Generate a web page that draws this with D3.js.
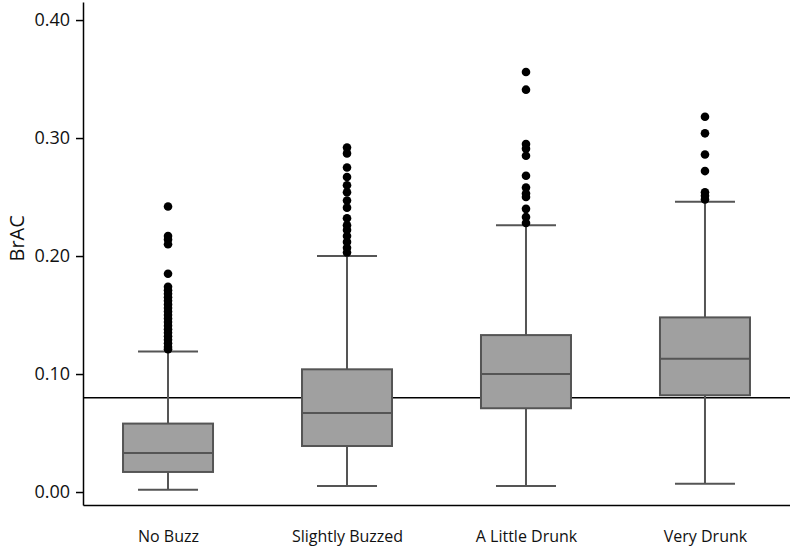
<!DOCTYPE html>
<html>
<head>
<meta charset="utf-8">
<script src="https://cdn.jsdelivr.net/npm/d3@7"></script>
<style>
  body { margin: 0; background: #fff; }
  svg { display: block; font-family: "Open Sans", sans-serif; }
</style>
</head>
<body>
<svg width="790" height="550"></svg>
<script>
// values
const categories = ['No Buzz', 'Slightly Buzzed', 'A Little Drunk', 'Very Drunk'];
const whiskerLow  = [0.002, 0.005, 0.005, 0.007];
const q1          = [0.017, 0.039, 0.071, 0.082];
const median      = [0.033, 0.067, 0.100, 0.113];
const q3          = [0.058, 0.104, 0.133, 0.148];
const whiskerHigh = [0.119, 0.200, 0.226, 0.246];
const outliers = [
    [0.242, 0.217, 0.214, 0.210, 0.185, 0.174, 0.171, 0.168, 0.165, 0.162, 0.159, 0.156,
     0.153, 0.150, 0.147, 0.144, 0.141, 0.138, 0.135, 0.132, 0.129, 0.126, 0.123, 0.121],
    [0.292, 0.287, 0.275, 0.267, 0.260, 0.254, 0.247, 0.241, 0.232, 0.226, 0.222, 0.217,
     0.212, 0.207, 0.203],
    [0.356, 0.341, 0.295, 0.291, 0.285, 0.268, 0.258, 0.253, 0.250, 0.240, 0.233, 0.228],
    [0.318, 0.304, 0.286, 0.272, 0.254, 0.251, 0.248]
];
const yTicks = [0, 0.1, 0.2, 0.3, 0.4];
const limit = 0.08;

const svg = d3.select('svg');

const x = d3.scalePoint().domain(categories).range([83, 790]).padding(0.475);
const y = d3.scaleLinear().domain([-0.011, 0.4153]).range([505, 2]);
const boxW = 90, capW = 60;

// y axis
const yAxis = svg.append('g').attr('transform', 'translate(83,0)')
    .call(d3.axisLeft(y).tickValues(yTicks).tickFormat(d3.format('.2f')).tickSize(7).tickSizeOuter(0).tickPadding(6));
yAxis.select('.domain').attr('stroke', '#000').attr('stroke-width', 1.5);
yAxis.selectAll('.tick line').attr('stroke', '#000').attr('stroke-width', 1.5);
yAxis.selectAll('.tick text').attr('font-size', 18).attr('fill', '#111').style('font-family', '"Open Sans", sans-serif');

// x axis
const xAxis = svg.append('g').attr('transform', 'translate(0,505)')
    .call(d3.axisBottom(x).tickSize(0).tickSizeOuter(0).tickPadding(26));
xAxis.select('.domain').attr('stroke', '#000').attr('stroke-width', 1.5);
xAxis.selectAll('.tick text').attr('font-size', 16).attr('fill', '#111').style('font-family', '"Open Sans", sans-serif');

// y label
svg.append('text')
    .attr('transform', 'translate(24,' + y(0.215) + ') rotate(-90)')
    .attr('text-anchor', 'middle')
    .attr('font-size', 20)
    .attr('fill', '#111')
    .text('BrAC');

// legal limit line
svg.append('line')
    .attr('x1', 83).attr('x2', 790)
    .attr('y1', y(limit)).attr('y2', y(limit))
    .attr('stroke', '#000').attr('stroke-width', 1.5);

const data = categories.map((c, i) => ({
    cat: c, lo: whiskerLow[i], q1: q1[i], med: median[i], q3: q3[i], hi: whiskerHigh[i], out: outliers[i]
}));

const g = svg.selectAll('.box').data(data).enter().append('g').attr('class', 'box');
const grey = '#555';

// whiskers
g.append('line')
    .attr('x1', d => x(d.cat)).attr('x2', d => x(d.cat))
    .attr('y1', d => y(d.lo)).attr('y2', d => y(d.hi))
    .attr('stroke', grey).attr('stroke-width', 2);
g.append('line')
    .attr('x1', d => x(d.cat) - capW / 2).attr('x2', d => x(d.cat) + capW / 2)
    .attr('y1', d => y(d.lo)).attr('y2', d => y(d.lo))
    .attr('stroke', grey).attr('stroke-width', 2);
g.append('line')
    .attr('x1', d => x(d.cat) - capW / 2).attr('x2', d => x(d.cat) + capW / 2)
    .attr('y1', d => y(d.hi)).attr('y2', d => y(d.hi))
    .attr('stroke', grey).attr('stroke-width', 2);

// box
g.append('rect')
    .attr('x', d => x(d.cat) - boxW / 2)
    .attr('width', boxW)
    .attr('y', d => y(d.q3))
    .attr('height', d => y(d.q1) - y(d.q3))
    .attr('fill', '#a0a0a0')
    .attr('stroke', grey).attr('stroke-width', 2);
g.append('line')
    .attr('x1', d => x(d.cat) - boxW / 2).attr('x2', d => x(d.cat) + boxW / 2)
    .attr('y1', d => y(d.med)).attr('y2', d => y(d.med))
    .attr('stroke', grey).attr('stroke-width', 2);

// outliers
g.selectAll('circle').data(d => d.out.map(v => ({ cat: d.cat, v: v }))).enter().append('circle')
    .attr('cx', d => x(d.cat))
    .attr('cy', d => y(d.v))
    .attr('r', 4.3)
    .attr('fill', '#000');
</script>
</body>
</html>
